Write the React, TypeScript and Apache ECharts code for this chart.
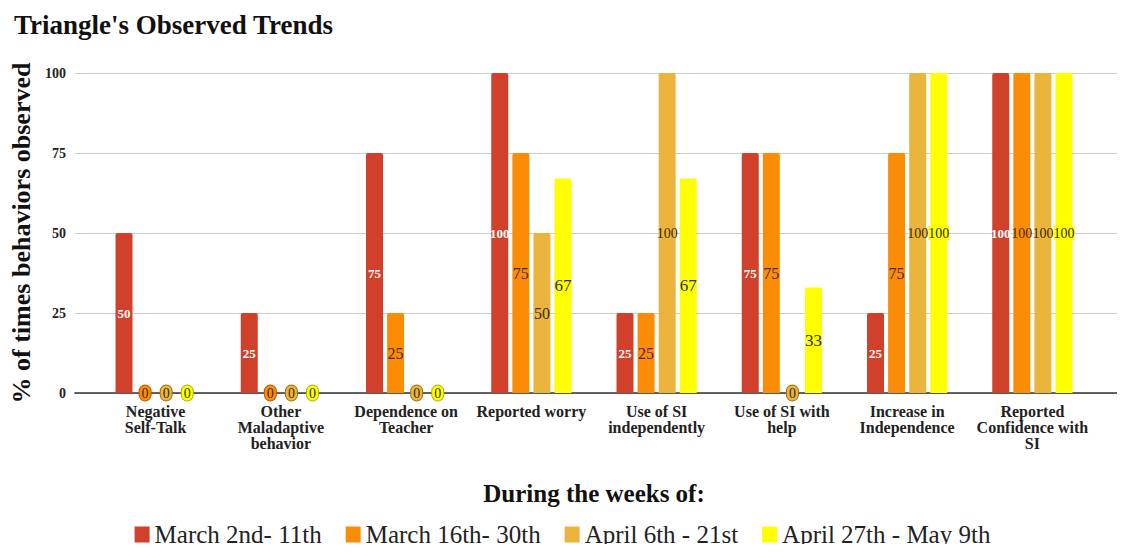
import React, { useEffect, useRef } from "react";
import * as echarts from "echarts";

const categories = [
  "Negative\nSelf-Talk",
  "Other\nMaladaptive\nbehavior",
  "Dependence on\nTeacher",
  "Reported worry",
  "Use of SI\nindependently",
  "Use of SI with\nhelp",
  "Increase in\nIndependence",
  "Reported\nConfidence with\nSI",
];
const seriesNames = ["March 2nd- 11th", "March 16th- 30th", "April 6th - 21st", "April 27th - May 9th"];
const march2 = [50, 25, 75, 100, 25, 75, 25, 100];
const march16 = [0, 0, 25, 75, 25, 75, 75, 100];
const april6 = [0, 0, 0, 50, 100, 0, 100, 100];
const april27 = [0, 0, 0, 67, 67, 33, 100, 100];
const yTicks = [0, 25, 50, 75, 100];

const colors = ["#d0402a", "#fb8d06", "#ebb53d", "#ffff00"];
const zeroBorders = ["#8a2010", "#b55a00", "#a07010", "#b0b000"];
const labelColors = ["#ffffff", "#4a2800", "#3a2c00", "#303000"];
const SERIF = "'Liberation Serif', 'DejaVu Serif', serif";

export default function App() {
  const ref = useRef<HTMLDivElement>(null);
  useEffect(() => {
    if (!ref.current) return;
    const chart = echarts.init(ref.current, undefined, { renderer: "svg" });
    const all = [march2, march16, april6, april27];
    const series = all.map((vals, i) => ({
      name: seriesNames[i],
      type: "bar",
      xAxisIndex: 1,
      yAxisIndex: 1,
      barWidth: 17,
      barGap: "24%",
      itemStyle: { color: colors[i], borderRadius: [2, 2, 0, 0] },
      label: {
        show: true,
        position: "inside",
        fontFamily: SERIF,
        fontSize: i === 0 ? 13 : i === 3 ? 17 : 16,
        fontWeight: i === 0 ? "bold" : "normal",
        color: labelColors[i],
        backgroundColor: i === 3 ? colors[3] : "transparent",
      },
      data: vals.map((v) => {
        if (v === 0) {
          return {
            value: v,
            label: {
              show: true,
              position: "inside",
              color: labelColors[i],
              fontFamily: SERIF,
              fontSize: 14,
              backgroundColor: colors[i],
              borderColor: zeroBorders[i],
              borderWidth: 1,
              borderRadius: 8,
              padding: [1, 2, 0, 2],
            },
          };
        }
        if (v === 100 && i > 0) {
          return { value: v, label: { fontFamily: SERIF, fontSize: 14, color: labelColors[i] } };
        }
        return v;
      }),
    }));
    chart.setOption({
      animation: false,
      backgroundColor: "#ffffff",
      color: colors,
      title: {
        text: "Triangle's Observed Trends",
        left: 9,
        top: 6,
        textStyle: { fontFamily: SERIF, fontSize: 27, fontWeight: "bold", color: "#111" },
      },
      legend: {
        data: seriesNames,
        bottom: 0,
        left: "center",
        icon: "rect",
        itemWidth: 15,
        itemHeight: 16,
        itemGap: 24,
        textStyle: { fontFamily: SERIF, fontSize: 25, color: "#222" },
      },
      grid: [
        { left: 72, right: 8, top: 73, bottom: 159 },
        { left: 93, right: 30, top: 73, bottom: 159 },
      ],
      xAxis: [
        {
          type: "value",
          gridIndex: 0,
          min: 0,
          max: 1,
          axisLine: { show: true, onZero: false, lineStyle: { color: "#333", width: 1.5 } },
          axisTick: { show: false },
          axisLabel: { show: false },
          splitLine: { show: false },
        },
        {
          type: "category",
          gridIndex: 1,
          data: categories,
          axisLine: { show: false },
          axisTick: { show: false },
          axisLabel: {
            interval: 0,
            margin: 10,
            fontFamily: SERIF,
            fontSize: 16,
            fontWeight: "bold",
            color: "#222",
            lineHeight: 16,
          },
          name: "During the weeks of:",
          nameLocation: "middle",
          nameGap: 88,
          nameTextStyle: { fontFamily: SERIF, fontSize: 25, fontWeight: "bold", color: "#111" },
        },
      ],
      yAxis: [
        {
          type: "value",
          gridIndex: 0,
          min: 0,
          max: 100,
          interval: 25,
          axisLine: { show: false },
          axisTick: { show: false },
          axisLabel: {
            margin: 9,
            fontFamily: SERIF,
            fontSize: 14,
            fontWeight: "bold",
            color: "#222",
            formatter: (v: number) => (yTicks.includes(v) ? String(v) : ""),
          },
          splitLine: { show: true, lineStyle: { color: "#cccccc", width: 1 } },
          name: "% of times behaviors observed",
          nameLocation: "middle",
          nameRotate: 90,
          nameGap: 40,
          nameTextStyle: { fontFamily: SERIF, fontSize: 26, fontWeight: "bold", color: "#111" },
        },
        {
          type: "value",
          gridIndex: 1,
          min: 0,
          max: 100,
          interval: 25,
          show: false,
          splitLine: { show: false },
        },
      ],
      series,
    });
    return () => chart.dispose();
  }, []);
  return <div ref={ref} style={{ width: 1125, height: 552, margin: -8 }} />;
}
